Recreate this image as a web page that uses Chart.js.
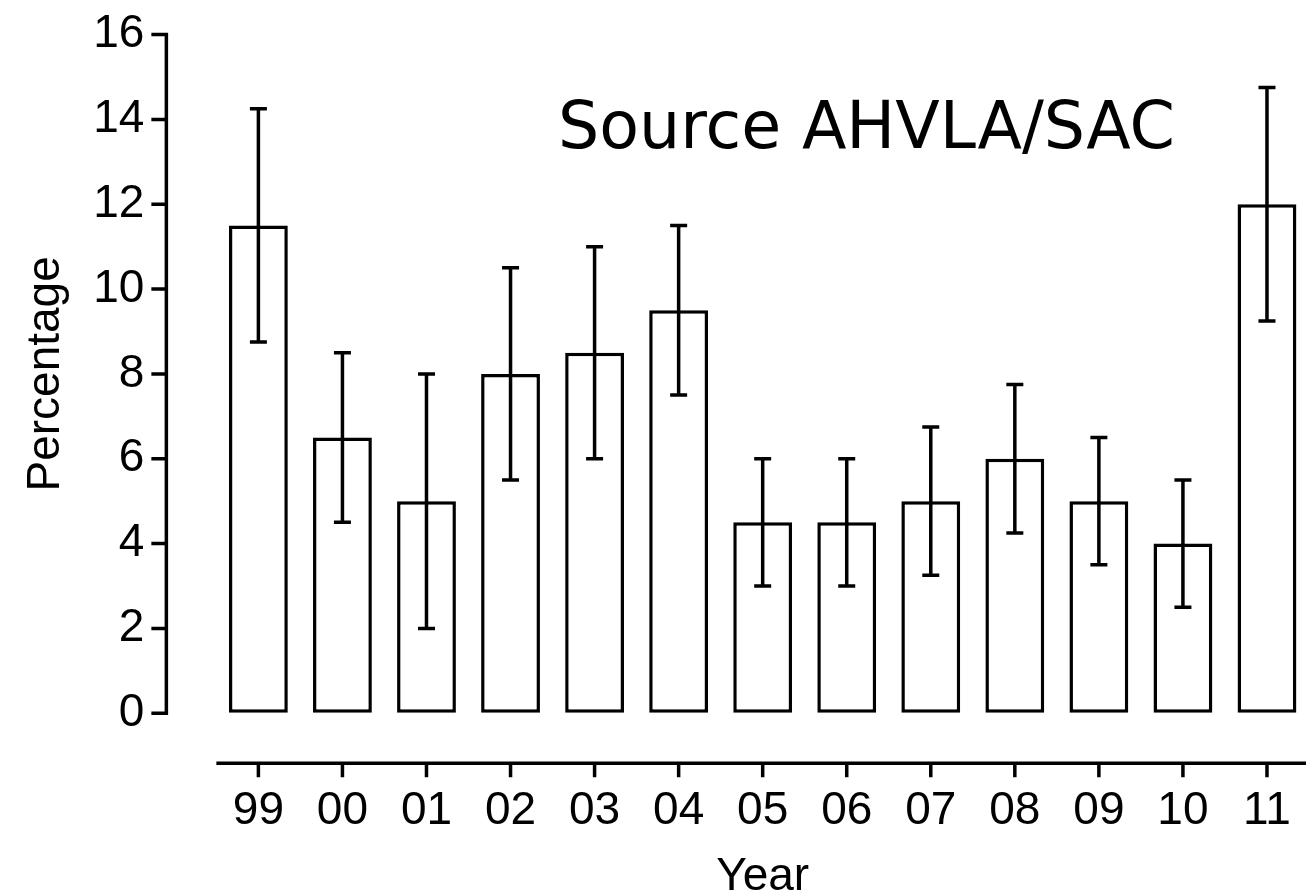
<!DOCTYPE html>
<html>
<head>
<meta charset="utf-8">
<script src="https://cdn.jsdelivr.net/npm/chart.js@4.4.1/dist/chart.umd.min.js"></script>
<style>
  html, body { margin: 0; padding: 0; background: #fff; overflow: hidden; }
  #wrap { width: 1310px; height: 891px; }
  canvas { display: block; }
</style>
</head>
<body>
<div id="wrap"><canvas id="c" width="1310" height="891"></canvas></div>
<script>
// ---- data ----
const years = ['99', '00', '01', '02', '03', '04', '05', '06', '07', '08', '09', '10', '11'];
const percentages = [11.5, 6.5, 5.0, 8.0, 8.5, 9.5, 4.5, 4.5, 5.0, 6.0, 5.0, 4.0, 12.0];
const errorLow = [8.75, 4.5, 2.0, 5.5, 6.0, 7.5, 3.0, 3.0, 3.25, 4.25, 3.5, 2.5, 9.25];
const errorHigh = [14.25, 8.5, 8.0, 10.5, 11.0, 11.5, 6.0, 6.0, 6.75, 7.75, 6.5, 5.5, 14.75];
const yTickValues = [0, 2, 4, 6, 8, 10, 12, 14, 16];
const yTitle = 'Percentage';
const xTitle = 'Year';
const sourceNote = 'Source AHVLA/SAC';

const AXIS_FONT = "'Liberation Sans', Arial, Helvetica, sans-serif";
const LINE_W = 3.5;
const BAR_BORDER = 3.5;
const Y_AXIS_GAP = 50;   // detached Prism-style axis offset
const Y_TICK_LEN = 15;
const X_AXIS_GAP = 50;
const X_TICK_LEN = 14;

const errorBarPlugin = {
  id: 'errorBars',
  afterDatasetsDraw(chart) {
    const { ctx, scales: { y } } = chart;
    const meta = chart.getDatasetMeta(0);
    ctx.save();
    ctx.strokeStyle = '#000';
    ctx.lineWidth = LINE_W;
    ctx.lineCap = 'butt';
    meta.data.forEach((bar, i) => {
      const cx = bar.x;
      const yHi = y.getPixelForValue(errorHigh[i]);
      const yLo = y.getPixelForValue(errorLow[i]);
      const half = 8.5;
      ctx.beginPath();
      ctx.moveTo(cx, yHi);
      ctx.lineTo(cx, yLo);
      ctx.moveTo(cx - half, yHi);
      ctx.lineTo(cx + half, yHi);
      ctx.moveTo(cx - half, yLo);
      ctx.lineTo(cx + half, yLo);
      ctx.stroke();
    });
    ctx.restore();
  }
};

const axesPlugin = {
  id: 'prismAxes',
  afterDraw(chart) {
    const { ctx, chartArea, scales: { x, y } } = chart;
    ctx.save();
    ctx.strokeStyle = '#000';
    ctx.lineWidth = LINE_W;
    ctx.lineCap = 'butt';
    // detached y axis
    const ax = chartArea.left - Y_AXIS_GAP;
    const yTop = y.getPixelForValue(y.max);
    const yBot = y.getPixelForValue(y.min);
    ctx.beginPath();
    ctx.moveTo(ax, yTop - LINE_W / 2);
    ctx.lineTo(ax, yBot + LINE_W / 2);
    y.ticks.forEach(t => {
      const py = y.getPixelForValue(t.value);
      ctx.moveTo(ax - Y_TICK_LEN, py);
      ctx.lineTo(ax, py);
    });
    ctx.stroke();
    // detached x axis
    const ay = chartArea.bottom + X_AXIS_GAP;
    ctx.beginPath();
    ctx.moveTo(chartArea.left, ay);
    ctx.lineTo(chartArea.right, ay);
    years.forEach((_, i) => {
      const px = x.getPixelForValue(i);
      ctx.moveTo(px, ay);
      ctx.lineTo(px, ay + X_TICK_LEN);
    });
    ctx.stroke();
    // source note
    ctx.fillStyle = '#000';
    ctx.font = "65px 'DejaVu Sans', Verdana, sans-serif";
    ctx.textAlign = 'left';
    ctx.textBaseline = 'alphabetic';
    ctx.fillText(sourceNote, 558, 148);
    ctx.restore();
  }
};

new Chart(document.getElementById('c'), {
  type: 'bar',
  data: {
    labels: years,
    datasets: [{
      data: percentages,
      backgroundColor: '#ffffff',
      borderColor: '#000000',
      borderWidth: BAR_BORDER,
      borderSkipped: false,
      categoryPercentage: 1.0,
      barPercentage: 0.7
    }]
  },
  options: {
    responsive: false,
    animation: false,
    devicePixelRatio: 1,
    layout: { padding: { top: 34, right: 1, bottom: 0, left: 19 } },
    plugins: {
      legend: { display: false },
      tooltip: { enabled: false },
      title: { display: false }
    },
    scales: {
      x: {
        type: 'category',
        offset: true,
        border: { display: false },
        grid: { display: true, drawOnChartArea: false, tickLength: X_AXIS_GAP + X_TICK_LEN, tickColor: 'rgba(0,0,0,0)' },
        ticks: { color: '#000', padding: 7, maxRotation: 0, autoSkip: false, font: { family: AXIS_FONT, size: 46, lineHeight: 1.2 } },
        title: { display: true, text: xTitle, color: '#000', font: { family: AXIS_FONT, size: 46, lineHeight: 0.6 }, padding: { top: 17, bottom: 0 } }
      },
      y: {
        min: 0,
        max: 16,
        border: { display: false },
        grid: { display: true, drawOnChartArea: false, tickLength: Y_AXIS_GAP + Y_TICK_LEN, tickColor: 'rgba(0,0,0,0)' },
        afterBuildTicks(scale) { scale.ticks = yTickValues.map(v => ({ value: v })); },
        ticks: { color: '#000', padding: 7, font: { family: AXIS_FONT, size: 46, lineHeight: 1.2 } },
        title: { display: true, text: yTitle, color: '#000', font: { family: AXIS_FONT, size: 46, lineHeight: 1.2 }, padding: { top: 0, bottom: 12 } }
      }
    }
  },
  plugins: [errorBarPlugin, axesPlugin]
});
</script>
</body>
</html>
